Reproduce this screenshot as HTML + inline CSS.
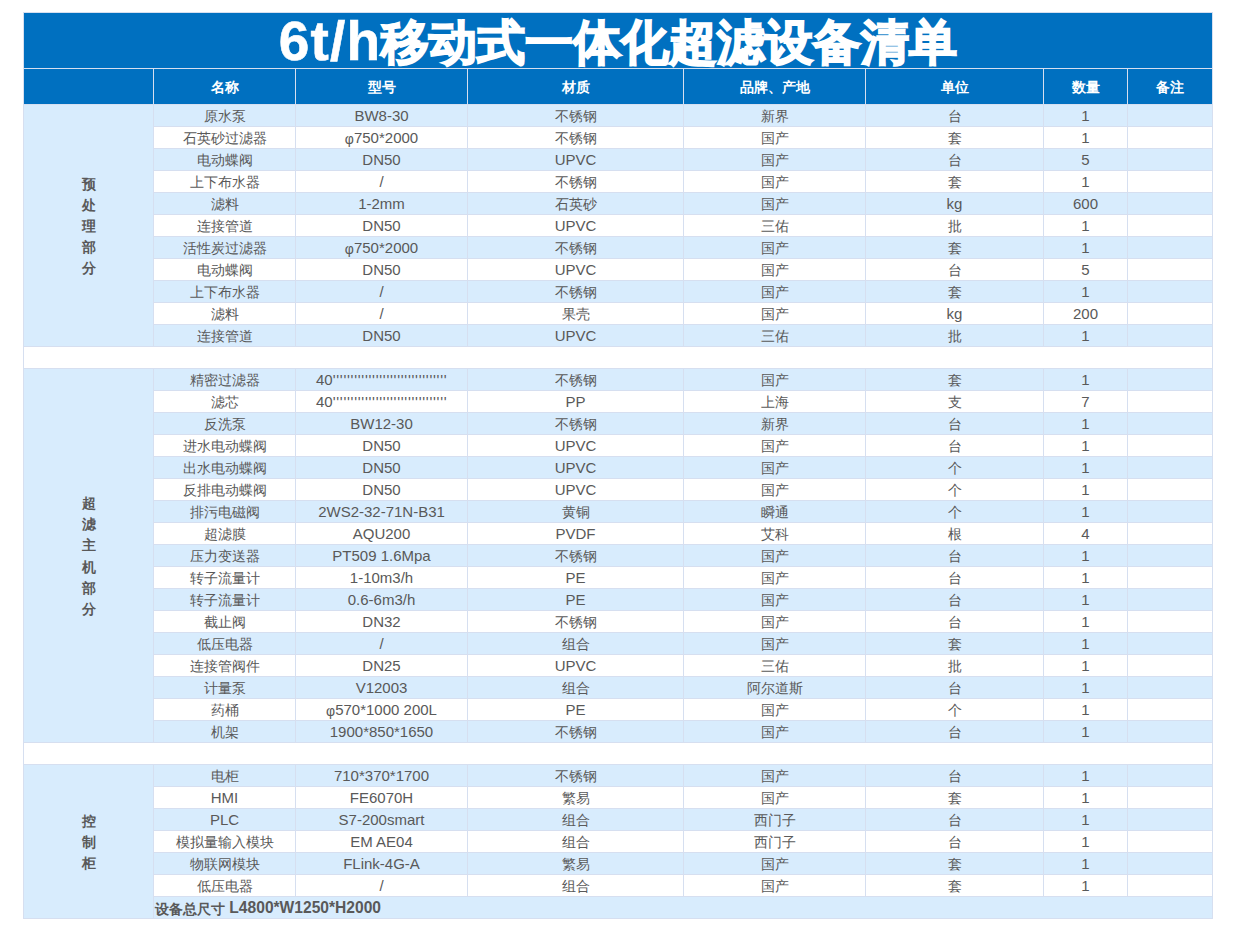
<!DOCTYPE html>
<html><head><meta charset="utf-8"><title>6t/h移动式一体化超滤设备清单</title><style>
*{margin:0;padding:0;box-sizing:border-box}
html,body{width:1237px;height:930px;background:#fff;overflow:hidden}
body{font-family:"Liberation Sans",sans-serif;font-size:14px;color:#595959}
#t{position:absolute;left:23px;top:12px;width:1190px;height:907px;background:#D6DFF0}
.c{position:absolute;text-align:center;white-space:nowrap;line-height:21px;overflow:hidden}
.ti{color:#fff;font-weight:bold;font-size:48px;line-height:55px}
.hd{color:#fff;font-weight:bold;line-height:37px}
.sl{padding-top:2px;font-weight:bold;display:flex;align-items:center;justify-content:center;line-height:21.15px}
.tot{text-align:left;font-weight:bold;padding-left:1px}
.tot .l{font-size:15.6px}
.l{font-size:15px;position:relative;top:-1px}
.d{padding-top:1px}
.tl{font-size:55px;letter-spacing:1.2px;position:relative;top:1px;-webkit-text-stroke:0.6px #fff}
.ap{letter-spacing:0.72px}
.tc{-webkit-text-stroke:1.8px #fff}
.qq{text-align:left;padding-left:20px}
</style></head>
<body><div id="t"></div>
<div class="c ti" style="left:24px;top:13px;width:1188px;height:55px;background:#0070C0"><span class="tl">6t/h</span><span class="tc">移动式一体化超滤设备清单</span></div>
<div class="c hd" style="left:24px;top:69px;width:129px;height:35px;background:#0070C0;"></div>
<div class="c hd" style="left:154px;top:69px;width:141px;height:35px;background:#0070C0;">名称</div>
<div class="c hd" style="left:296px;top:69px;width:171px;height:35px;background:#0070C0;">型号</div>
<div class="c hd" style="left:468px;top:69px;width:215px;height:35px;background:#0070C0;">材质</div>
<div class="c hd" style="left:684px;top:69px;width:181px;height:35px;background:#0070C0;">品牌、产地</div>
<div class="c hd" style="left:866px;top:69px;width:177px;height:35px;background:#0070C0;">单位</div>
<div class="c hd" style="left:1044px;top:69px;width:83px;height:35px;background:#0070C0;">数量</div>
<div class="c hd" style="left:1128px;top:69px;width:84px;height:35px;background:#0070C0;">备注</div>
<div class="c d" style="left:154px;top:105px;width:141px;height:21px;background:#D8ECFD;">原水泵</div>
<div class="c d" style="left:296px;top:105px;width:171px;height:21px;background:#D8ECFD;"><span class="l">BW8-30</span></div>
<div class="c d" style="left:468px;top:105px;width:215px;height:21px;background:#D8ECFD;">不锈钢</div>
<div class="c d" style="left:684px;top:105px;width:181px;height:21px;background:#D8ECFD;">新界</div>
<div class="c d" style="left:866px;top:105px;width:177px;height:21px;background:#D8ECFD;">台</div>
<div class="c d" style="left:1044px;top:105px;width:83px;height:21px;background:#D8ECFD;"><span class="l">1</span></div>
<div class="c d" style="left:1128px;top:105px;width:84px;height:21px;background:#D8ECFD;"></div>
<div class="c d" style="left:154px;top:127px;width:141px;height:21px;background:#fff;">石英砂过滤器</div>
<div class="c d" style="left:296px;top:127px;width:171px;height:21px;background:#fff;">φ<span class="l">750*2000</span></div>
<div class="c d" style="left:468px;top:127px;width:215px;height:21px;background:#fff;">不锈钢</div>
<div class="c d" style="left:684px;top:127px;width:181px;height:21px;background:#fff;">国产</div>
<div class="c d" style="left:866px;top:127px;width:177px;height:21px;background:#fff;">套</div>
<div class="c d" style="left:1044px;top:127px;width:83px;height:21px;background:#fff;"><span class="l">1</span></div>
<div class="c d" style="left:1128px;top:127px;width:84px;height:21px;background:#fff;"></div>
<div class="c d" style="left:154px;top:149px;width:141px;height:21px;background:#D8ECFD;">电动蝶阀</div>
<div class="c d" style="left:296px;top:149px;width:171px;height:21px;background:#D8ECFD;"><span class="l">DN50</span></div>
<div class="c d" style="left:468px;top:149px;width:215px;height:21px;background:#D8ECFD;"><span class="l">UPVC</span></div>
<div class="c d" style="left:684px;top:149px;width:181px;height:21px;background:#D8ECFD;">国产</div>
<div class="c d" style="left:866px;top:149px;width:177px;height:21px;background:#D8ECFD;">台</div>
<div class="c d" style="left:1044px;top:149px;width:83px;height:21px;background:#D8ECFD;"><span class="l">5</span></div>
<div class="c d" style="left:1128px;top:149px;width:84px;height:21px;background:#D8ECFD;"></div>
<div class="c d" style="left:154px;top:171px;width:141px;height:21px;background:#fff;">上下布水器</div>
<div class="c d" style="left:296px;top:171px;width:171px;height:21px;background:#fff;"><span class="l">/</span></div>
<div class="c d" style="left:468px;top:171px;width:215px;height:21px;background:#fff;">不锈钢</div>
<div class="c d" style="left:684px;top:171px;width:181px;height:21px;background:#fff;">国产</div>
<div class="c d" style="left:866px;top:171px;width:177px;height:21px;background:#fff;">套</div>
<div class="c d" style="left:1044px;top:171px;width:83px;height:21px;background:#fff;"><span class="l">1</span></div>
<div class="c d" style="left:1128px;top:171px;width:84px;height:21px;background:#fff;"></div>
<div class="c d" style="left:154px;top:193px;width:141px;height:21px;background:#D8ECFD;">滤料</div>
<div class="c d" style="left:296px;top:193px;width:171px;height:21px;background:#D8ECFD;"><span class="l">1-2mm</span></div>
<div class="c d" style="left:468px;top:193px;width:215px;height:21px;background:#D8ECFD;">石英砂</div>
<div class="c d" style="left:684px;top:193px;width:181px;height:21px;background:#D8ECFD;">国产</div>
<div class="c d" style="left:866px;top:193px;width:177px;height:21px;background:#D8ECFD;"><span class="l">kg</span></div>
<div class="c d" style="left:1044px;top:193px;width:83px;height:21px;background:#D8ECFD;"><span class="l">600</span></div>
<div class="c d" style="left:1128px;top:193px;width:84px;height:21px;background:#D8ECFD;"></div>
<div class="c d" style="left:154px;top:215px;width:141px;height:21px;background:#fff;">连接管道</div>
<div class="c d" style="left:296px;top:215px;width:171px;height:21px;background:#fff;"><span class="l">DN50</span></div>
<div class="c d" style="left:468px;top:215px;width:215px;height:21px;background:#fff;"><span class="l">UPVC</span></div>
<div class="c d" style="left:684px;top:215px;width:181px;height:21px;background:#fff;">三佑</div>
<div class="c d" style="left:866px;top:215px;width:177px;height:21px;background:#fff;">批</div>
<div class="c d" style="left:1044px;top:215px;width:83px;height:21px;background:#fff;"><span class="l">1</span></div>
<div class="c d" style="left:1128px;top:215px;width:84px;height:21px;background:#fff;"></div>
<div class="c d" style="left:154px;top:237px;width:141px;height:21px;background:#D8ECFD;">活性炭过滤器</div>
<div class="c d" style="left:296px;top:237px;width:171px;height:21px;background:#D8ECFD;">φ<span class="l">750*2000</span></div>
<div class="c d" style="left:468px;top:237px;width:215px;height:21px;background:#D8ECFD;">不锈钢</div>
<div class="c d" style="left:684px;top:237px;width:181px;height:21px;background:#D8ECFD;">国产</div>
<div class="c d" style="left:866px;top:237px;width:177px;height:21px;background:#D8ECFD;">套</div>
<div class="c d" style="left:1044px;top:237px;width:83px;height:21px;background:#D8ECFD;"><span class="l">1</span></div>
<div class="c d" style="left:1128px;top:237px;width:84px;height:21px;background:#D8ECFD;"></div>
<div class="c d" style="left:154px;top:259px;width:141px;height:21px;background:#fff;">电动蝶阀</div>
<div class="c d" style="left:296px;top:259px;width:171px;height:21px;background:#fff;"><span class="l">DN50</span></div>
<div class="c d" style="left:468px;top:259px;width:215px;height:21px;background:#fff;"><span class="l">UPVC</span></div>
<div class="c d" style="left:684px;top:259px;width:181px;height:21px;background:#fff;">国产</div>
<div class="c d" style="left:866px;top:259px;width:177px;height:21px;background:#fff;">台</div>
<div class="c d" style="left:1044px;top:259px;width:83px;height:21px;background:#fff;"><span class="l">5</span></div>
<div class="c d" style="left:1128px;top:259px;width:84px;height:21px;background:#fff;"></div>
<div class="c d" style="left:154px;top:281px;width:141px;height:21px;background:#D8ECFD;">上下布水器</div>
<div class="c d" style="left:296px;top:281px;width:171px;height:21px;background:#D8ECFD;"><span class="l">/</span></div>
<div class="c d" style="left:468px;top:281px;width:215px;height:21px;background:#D8ECFD;">不锈钢</div>
<div class="c d" style="left:684px;top:281px;width:181px;height:21px;background:#D8ECFD;">国产</div>
<div class="c d" style="left:866px;top:281px;width:177px;height:21px;background:#D8ECFD;">套</div>
<div class="c d" style="left:1044px;top:281px;width:83px;height:21px;background:#D8ECFD;"><span class="l">1</span></div>
<div class="c d" style="left:1128px;top:281px;width:84px;height:21px;background:#D8ECFD;"></div>
<div class="c d" style="left:154px;top:303px;width:141px;height:21px;background:#fff;">滤料</div>
<div class="c d" style="left:296px;top:303px;width:171px;height:21px;background:#fff;"><span class="l">/</span></div>
<div class="c d" style="left:468px;top:303px;width:215px;height:21px;background:#fff;">果壳</div>
<div class="c d" style="left:684px;top:303px;width:181px;height:21px;background:#fff;">国产</div>
<div class="c d" style="left:866px;top:303px;width:177px;height:21px;background:#fff;"><span class="l">kg</span></div>
<div class="c d" style="left:1044px;top:303px;width:83px;height:21px;background:#fff;"><span class="l">200</span></div>
<div class="c d" style="left:1128px;top:303px;width:84px;height:21px;background:#fff;"></div>
<div class="c d" style="left:154px;top:325px;width:141px;height:21px;background:#D8ECFD;">连接管道</div>
<div class="c d" style="left:296px;top:325px;width:171px;height:21px;background:#D8ECFD;"><span class="l">DN50</span></div>
<div class="c d" style="left:468px;top:325px;width:215px;height:21px;background:#D8ECFD;"><span class="l">UPVC</span></div>
<div class="c d" style="left:684px;top:325px;width:181px;height:21px;background:#D8ECFD;">三佑</div>
<div class="c d" style="left:866px;top:325px;width:177px;height:21px;background:#D8ECFD;">批</div>
<div class="c d" style="left:1044px;top:325px;width:83px;height:21px;background:#D8ECFD;"><span class="l">1</span></div>
<div class="c d" style="left:1128px;top:325px;width:84px;height:21px;background:#D8ECFD;"></div>
<div class="c sl" style="left:24px;top:105px;width:129px;height:241px;background:#D8ECFD"><span>预<br>处<br>理<br>部<br>分</span></div>
<div class="c" style="left:24px;top:347px;width:1188px;height:21px;background:#fff;"></div>
<div class="c d" style="left:154px;top:369px;width:141px;height:21px;background:#D8ECFD;">精密过滤器</div>
<div class="c d qq" style="left:296px;top:369px;width:171px;height:21px;background:#D8ECFD;"><span class="l">40<span class="ap">&#39;&#39;&#39;&#39;&#39;&#39;&#39;&#39;&#39;&#39;&#39;&#39;&#39;&#39;&#39;&#39;&#39;&#39;&#39;&#39;&#39;&#39;&#39;&#39;&#39;&#39;&#39;&#39;&#39;&#39;&#39;&#39;</span></span></div>
<div class="c d" style="left:468px;top:369px;width:215px;height:21px;background:#D8ECFD;">不锈钢</div>
<div class="c d" style="left:684px;top:369px;width:181px;height:21px;background:#D8ECFD;">国产</div>
<div class="c d" style="left:866px;top:369px;width:177px;height:21px;background:#D8ECFD;">套</div>
<div class="c d" style="left:1044px;top:369px;width:83px;height:21px;background:#D8ECFD;"><span class="l">1</span></div>
<div class="c d" style="left:1128px;top:369px;width:84px;height:21px;background:#D8ECFD;"></div>
<div class="c d" style="left:154px;top:391px;width:141px;height:21px;background:#fff;">滤芯</div>
<div class="c d qq" style="left:296px;top:391px;width:171px;height:21px;background:#fff;"><span class="l">40<span class="ap">&#39;&#39;&#39;&#39;&#39;&#39;&#39;&#39;&#39;&#39;&#39;&#39;&#39;&#39;&#39;&#39;&#39;&#39;&#39;&#39;&#39;&#39;&#39;&#39;&#39;&#39;&#39;&#39;&#39;&#39;&#39;&#39;</span></span></div>
<div class="c d" style="left:468px;top:391px;width:215px;height:21px;background:#fff;"><span class="l">PP</span></div>
<div class="c d" style="left:684px;top:391px;width:181px;height:21px;background:#fff;">上海</div>
<div class="c d" style="left:866px;top:391px;width:177px;height:21px;background:#fff;">支</div>
<div class="c d" style="left:1044px;top:391px;width:83px;height:21px;background:#fff;"><span class="l">7</span></div>
<div class="c d" style="left:1128px;top:391px;width:84px;height:21px;background:#fff;"></div>
<div class="c d" style="left:154px;top:413px;width:141px;height:21px;background:#D8ECFD;">反洗泵</div>
<div class="c d" style="left:296px;top:413px;width:171px;height:21px;background:#D8ECFD;"><span class="l">BW12-30</span></div>
<div class="c d" style="left:468px;top:413px;width:215px;height:21px;background:#D8ECFD;">不锈钢</div>
<div class="c d" style="left:684px;top:413px;width:181px;height:21px;background:#D8ECFD;">新界</div>
<div class="c d" style="left:866px;top:413px;width:177px;height:21px;background:#D8ECFD;">台</div>
<div class="c d" style="left:1044px;top:413px;width:83px;height:21px;background:#D8ECFD;"><span class="l">1</span></div>
<div class="c d" style="left:1128px;top:413px;width:84px;height:21px;background:#D8ECFD;"></div>
<div class="c d" style="left:154px;top:435px;width:141px;height:21px;background:#fff;">进水电动蝶阀</div>
<div class="c d" style="left:296px;top:435px;width:171px;height:21px;background:#fff;"><span class="l">DN50</span></div>
<div class="c d" style="left:468px;top:435px;width:215px;height:21px;background:#fff;"><span class="l">UPVC</span></div>
<div class="c d" style="left:684px;top:435px;width:181px;height:21px;background:#fff;">国产</div>
<div class="c d" style="left:866px;top:435px;width:177px;height:21px;background:#fff;">台</div>
<div class="c d" style="left:1044px;top:435px;width:83px;height:21px;background:#fff;"><span class="l">1</span></div>
<div class="c d" style="left:1128px;top:435px;width:84px;height:21px;background:#fff;"></div>
<div class="c d" style="left:154px;top:457px;width:141px;height:21px;background:#D8ECFD;">出水电动蝶阀</div>
<div class="c d" style="left:296px;top:457px;width:171px;height:21px;background:#D8ECFD;"><span class="l">DN50</span></div>
<div class="c d" style="left:468px;top:457px;width:215px;height:21px;background:#D8ECFD;"><span class="l">UPVC</span></div>
<div class="c d" style="left:684px;top:457px;width:181px;height:21px;background:#D8ECFD;">国产</div>
<div class="c d" style="left:866px;top:457px;width:177px;height:21px;background:#D8ECFD;">个</div>
<div class="c d" style="left:1044px;top:457px;width:83px;height:21px;background:#D8ECFD;"><span class="l">1</span></div>
<div class="c d" style="left:1128px;top:457px;width:84px;height:21px;background:#D8ECFD;"></div>
<div class="c d" style="left:154px;top:479px;width:141px;height:21px;background:#fff;">反排电动蝶阀</div>
<div class="c d" style="left:296px;top:479px;width:171px;height:21px;background:#fff;"><span class="l">DN50</span></div>
<div class="c d" style="left:468px;top:479px;width:215px;height:21px;background:#fff;"><span class="l">UPVC</span></div>
<div class="c d" style="left:684px;top:479px;width:181px;height:21px;background:#fff;">国产</div>
<div class="c d" style="left:866px;top:479px;width:177px;height:21px;background:#fff;">个</div>
<div class="c d" style="left:1044px;top:479px;width:83px;height:21px;background:#fff;"><span class="l">1</span></div>
<div class="c d" style="left:1128px;top:479px;width:84px;height:21px;background:#fff;"></div>
<div class="c d" style="left:154px;top:501px;width:141px;height:21px;background:#D8ECFD;">排污电磁阀</div>
<div class="c d" style="left:296px;top:501px;width:171px;height:21px;background:#D8ECFD;"><span class="l">2WS2-32-71N-B31</span></div>
<div class="c d" style="left:468px;top:501px;width:215px;height:21px;background:#D8ECFD;">黄铜</div>
<div class="c d" style="left:684px;top:501px;width:181px;height:21px;background:#D8ECFD;">瞬通</div>
<div class="c d" style="left:866px;top:501px;width:177px;height:21px;background:#D8ECFD;">个</div>
<div class="c d" style="left:1044px;top:501px;width:83px;height:21px;background:#D8ECFD;"><span class="l">1</span></div>
<div class="c d" style="left:1128px;top:501px;width:84px;height:21px;background:#D8ECFD;"></div>
<div class="c d" style="left:154px;top:523px;width:141px;height:21px;background:#fff;">超滤膜</div>
<div class="c d" style="left:296px;top:523px;width:171px;height:21px;background:#fff;"><span class="l">AQU200</span></div>
<div class="c d" style="left:468px;top:523px;width:215px;height:21px;background:#fff;"><span class="l">PVDF</span></div>
<div class="c d" style="left:684px;top:523px;width:181px;height:21px;background:#fff;">艾科</div>
<div class="c d" style="left:866px;top:523px;width:177px;height:21px;background:#fff;">根</div>
<div class="c d" style="left:1044px;top:523px;width:83px;height:21px;background:#fff;"><span class="l">4</span></div>
<div class="c d" style="left:1128px;top:523px;width:84px;height:21px;background:#fff;"></div>
<div class="c d" style="left:154px;top:545px;width:141px;height:21px;background:#D8ECFD;">压力变送器</div>
<div class="c d" style="left:296px;top:545px;width:171px;height:21px;background:#D8ECFD;"><span class="l">PT509 1.6Mpa</span></div>
<div class="c d" style="left:468px;top:545px;width:215px;height:21px;background:#D8ECFD;">不锈钢</div>
<div class="c d" style="left:684px;top:545px;width:181px;height:21px;background:#D8ECFD;">国产</div>
<div class="c d" style="left:866px;top:545px;width:177px;height:21px;background:#D8ECFD;">台</div>
<div class="c d" style="left:1044px;top:545px;width:83px;height:21px;background:#D8ECFD;"><span class="l">1</span></div>
<div class="c d" style="left:1128px;top:545px;width:84px;height:21px;background:#D8ECFD;"></div>
<div class="c d" style="left:154px;top:567px;width:141px;height:21px;background:#fff;">转子流量计</div>
<div class="c d" style="left:296px;top:567px;width:171px;height:21px;background:#fff;"><span class="l">1-10m3/h</span></div>
<div class="c d" style="left:468px;top:567px;width:215px;height:21px;background:#fff;"><span class="l">PE</span></div>
<div class="c d" style="left:684px;top:567px;width:181px;height:21px;background:#fff;">国产</div>
<div class="c d" style="left:866px;top:567px;width:177px;height:21px;background:#fff;">台</div>
<div class="c d" style="left:1044px;top:567px;width:83px;height:21px;background:#fff;"><span class="l">1</span></div>
<div class="c d" style="left:1128px;top:567px;width:84px;height:21px;background:#fff;"></div>
<div class="c d" style="left:154px;top:589px;width:141px;height:21px;background:#D8ECFD;">转子流量计</div>
<div class="c d" style="left:296px;top:589px;width:171px;height:21px;background:#D8ECFD;"><span class="l">0.6-6m3/h</span></div>
<div class="c d" style="left:468px;top:589px;width:215px;height:21px;background:#D8ECFD;"><span class="l">PE</span></div>
<div class="c d" style="left:684px;top:589px;width:181px;height:21px;background:#D8ECFD;">国产</div>
<div class="c d" style="left:866px;top:589px;width:177px;height:21px;background:#D8ECFD;">台</div>
<div class="c d" style="left:1044px;top:589px;width:83px;height:21px;background:#D8ECFD;"><span class="l">1</span></div>
<div class="c d" style="left:1128px;top:589px;width:84px;height:21px;background:#D8ECFD;"></div>
<div class="c d" style="left:154px;top:611px;width:141px;height:21px;background:#fff;">截止阀</div>
<div class="c d" style="left:296px;top:611px;width:171px;height:21px;background:#fff;"><span class="l">DN32</span></div>
<div class="c d" style="left:468px;top:611px;width:215px;height:21px;background:#fff;">不锈钢</div>
<div class="c d" style="left:684px;top:611px;width:181px;height:21px;background:#fff;">国产</div>
<div class="c d" style="left:866px;top:611px;width:177px;height:21px;background:#fff;">台</div>
<div class="c d" style="left:1044px;top:611px;width:83px;height:21px;background:#fff;"><span class="l">1</span></div>
<div class="c d" style="left:1128px;top:611px;width:84px;height:21px;background:#fff;"></div>
<div class="c d" style="left:154px;top:633px;width:141px;height:21px;background:#D8ECFD;">低压电器</div>
<div class="c d" style="left:296px;top:633px;width:171px;height:21px;background:#D8ECFD;"><span class="l">/</span></div>
<div class="c d" style="left:468px;top:633px;width:215px;height:21px;background:#D8ECFD;">组合</div>
<div class="c d" style="left:684px;top:633px;width:181px;height:21px;background:#D8ECFD;">国产</div>
<div class="c d" style="left:866px;top:633px;width:177px;height:21px;background:#D8ECFD;">套</div>
<div class="c d" style="left:1044px;top:633px;width:83px;height:21px;background:#D8ECFD;"><span class="l">1</span></div>
<div class="c d" style="left:1128px;top:633px;width:84px;height:21px;background:#D8ECFD;"></div>
<div class="c d" style="left:154px;top:655px;width:141px;height:21px;background:#fff;">连接管阀件</div>
<div class="c d" style="left:296px;top:655px;width:171px;height:21px;background:#fff;"><span class="l">DN25</span></div>
<div class="c d" style="left:468px;top:655px;width:215px;height:21px;background:#fff;"><span class="l">UPVC</span></div>
<div class="c d" style="left:684px;top:655px;width:181px;height:21px;background:#fff;">三佑</div>
<div class="c d" style="left:866px;top:655px;width:177px;height:21px;background:#fff;">批</div>
<div class="c d" style="left:1044px;top:655px;width:83px;height:21px;background:#fff;"><span class="l">1</span></div>
<div class="c d" style="left:1128px;top:655px;width:84px;height:21px;background:#fff;"></div>
<div class="c d" style="left:154px;top:677px;width:141px;height:21px;background:#D8ECFD;">计量泵</div>
<div class="c d" style="left:296px;top:677px;width:171px;height:21px;background:#D8ECFD;"><span class="l">V12003</span></div>
<div class="c d" style="left:468px;top:677px;width:215px;height:21px;background:#D8ECFD;">组合</div>
<div class="c d" style="left:684px;top:677px;width:181px;height:21px;background:#D8ECFD;">阿尔道斯</div>
<div class="c d" style="left:866px;top:677px;width:177px;height:21px;background:#D8ECFD;">台</div>
<div class="c d" style="left:1044px;top:677px;width:83px;height:21px;background:#D8ECFD;"><span class="l">1</span></div>
<div class="c d" style="left:1128px;top:677px;width:84px;height:21px;background:#D8ECFD;"></div>
<div class="c d" style="left:154px;top:699px;width:141px;height:21px;background:#fff;">药桶</div>
<div class="c d" style="left:296px;top:699px;width:171px;height:21px;background:#fff;">φ<span class="l">570*1000 200L</span></div>
<div class="c d" style="left:468px;top:699px;width:215px;height:21px;background:#fff;"><span class="l">PE</span></div>
<div class="c d" style="left:684px;top:699px;width:181px;height:21px;background:#fff;">国产</div>
<div class="c d" style="left:866px;top:699px;width:177px;height:21px;background:#fff;">个</div>
<div class="c d" style="left:1044px;top:699px;width:83px;height:21px;background:#fff;"><span class="l">1</span></div>
<div class="c d" style="left:1128px;top:699px;width:84px;height:21px;background:#fff;"></div>
<div class="c d" style="left:154px;top:721px;width:141px;height:21px;background:#D8ECFD;">机架</div>
<div class="c d" style="left:296px;top:721px;width:171px;height:21px;background:#D8ECFD;"><span class="l">1900*850*1650</span></div>
<div class="c d" style="left:468px;top:721px;width:215px;height:21px;background:#D8ECFD;">不锈钢</div>
<div class="c d" style="left:684px;top:721px;width:181px;height:21px;background:#D8ECFD;">国产</div>
<div class="c d" style="left:866px;top:721px;width:177px;height:21px;background:#D8ECFD;">台</div>
<div class="c d" style="left:1044px;top:721px;width:83px;height:21px;background:#D8ECFD;"><span class="l">1</span></div>
<div class="c d" style="left:1128px;top:721px;width:84px;height:21px;background:#D8ECFD;"></div>
<div class="c sl" style="left:24px;top:369px;width:129px;height:373px;background:#D8ECFD"><span>超<br>滤<br>主<br>机<br>部<br>分</span></div>
<div class="c" style="left:24px;top:743px;width:1188px;height:21px;background:#fff;"></div>
<div class="c d" style="left:154px;top:765px;width:141px;height:21px;background:#D8ECFD;">电柜</div>
<div class="c d" style="left:296px;top:765px;width:171px;height:21px;background:#D8ECFD;"><span class="l">710*370*1700</span></div>
<div class="c d" style="left:468px;top:765px;width:215px;height:21px;background:#D8ECFD;">不锈钢</div>
<div class="c d" style="left:684px;top:765px;width:181px;height:21px;background:#D8ECFD;">国产</div>
<div class="c d" style="left:866px;top:765px;width:177px;height:21px;background:#D8ECFD;">台</div>
<div class="c d" style="left:1044px;top:765px;width:83px;height:21px;background:#D8ECFD;"><span class="l">1</span></div>
<div class="c d" style="left:1128px;top:765px;width:84px;height:21px;background:#D8ECFD;"></div>
<div class="c d" style="left:154px;top:787px;width:141px;height:21px;background:#fff;"><span class="l">HMI</span></div>
<div class="c d" style="left:296px;top:787px;width:171px;height:21px;background:#fff;"><span class="l">FE6070H</span></div>
<div class="c d" style="left:468px;top:787px;width:215px;height:21px;background:#fff;">繁易</div>
<div class="c d" style="left:684px;top:787px;width:181px;height:21px;background:#fff;">国产</div>
<div class="c d" style="left:866px;top:787px;width:177px;height:21px;background:#fff;">套</div>
<div class="c d" style="left:1044px;top:787px;width:83px;height:21px;background:#fff;"><span class="l">1</span></div>
<div class="c d" style="left:1128px;top:787px;width:84px;height:21px;background:#fff;"></div>
<div class="c d" style="left:154px;top:809px;width:141px;height:21px;background:#D8ECFD;"><span class="l">PLC</span></div>
<div class="c d" style="left:296px;top:809px;width:171px;height:21px;background:#D8ECFD;"><span class="l">S7-200smart</span></div>
<div class="c d" style="left:468px;top:809px;width:215px;height:21px;background:#D8ECFD;">组合</div>
<div class="c d" style="left:684px;top:809px;width:181px;height:21px;background:#D8ECFD;">西门子</div>
<div class="c d" style="left:866px;top:809px;width:177px;height:21px;background:#D8ECFD;">台</div>
<div class="c d" style="left:1044px;top:809px;width:83px;height:21px;background:#D8ECFD;"><span class="l">1</span></div>
<div class="c d" style="left:1128px;top:809px;width:84px;height:21px;background:#D8ECFD;"></div>
<div class="c d" style="left:154px;top:831px;width:141px;height:21px;background:#fff;">模拟量输入模块</div>
<div class="c d" style="left:296px;top:831px;width:171px;height:21px;background:#fff;"><span class="l">EM AE04</span></div>
<div class="c d" style="left:468px;top:831px;width:215px;height:21px;background:#fff;">组合</div>
<div class="c d" style="left:684px;top:831px;width:181px;height:21px;background:#fff;">西门子</div>
<div class="c d" style="left:866px;top:831px;width:177px;height:21px;background:#fff;">台</div>
<div class="c d" style="left:1044px;top:831px;width:83px;height:21px;background:#fff;"><span class="l">1</span></div>
<div class="c d" style="left:1128px;top:831px;width:84px;height:21px;background:#fff;"></div>
<div class="c d" style="left:154px;top:853px;width:141px;height:21px;background:#D8ECFD;">物联网模块</div>
<div class="c d" style="left:296px;top:853px;width:171px;height:21px;background:#D8ECFD;"><span class="l">FLink-4G-A</span></div>
<div class="c d" style="left:468px;top:853px;width:215px;height:21px;background:#D8ECFD;">繁易</div>
<div class="c d" style="left:684px;top:853px;width:181px;height:21px;background:#D8ECFD;">国产</div>
<div class="c d" style="left:866px;top:853px;width:177px;height:21px;background:#D8ECFD;">套</div>
<div class="c d" style="left:1044px;top:853px;width:83px;height:21px;background:#D8ECFD;"><span class="l">1</span></div>
<div class="c d" style="left:1128px;top:853px;width:84px;height:21px;background:#D8ECFD;"></div>
<div class="c d" style="left:154px;top:875px;width:141px;height:21px;background:#fff;">低压电器</div>
<div class="c d" style="left:296px;top:875px;width:171px;height:21px;background:#fff;"><span class="l">/</span></div>
<div class="c d" style="left:468px;top:875px;width:215px;height:21px;background:#fff;">组合</div>
<div class="c d" style="left:684px;top:875px;width:181px;height:21px;background:#fff;">国产</div>
<div class="c d" style="left:866px;top:875px;width:177px;height:21px;background:#fff;">套</div>
<div class="c d" style="left:1044px;top:875px;width:83px;height:21px;background:#fff;"><span class="l">1</span></div>
<div class="c d" style="left:1128px;top:875px;width:84px;height:21px;background:#fff;"></div>
<div class="c d tot" style="left:154px;top:897px;width:1058px;height:21px;background:#D8ECFD;">设备总尺寸<span class="l"> L4800*W1250*H2000</span></div>
<div class="c sl" style="left:24px;top:765px;width:129px;height:153px;background:#D8ECFD"><span>控<br>制<br>柜</span></div>
</body></html>
